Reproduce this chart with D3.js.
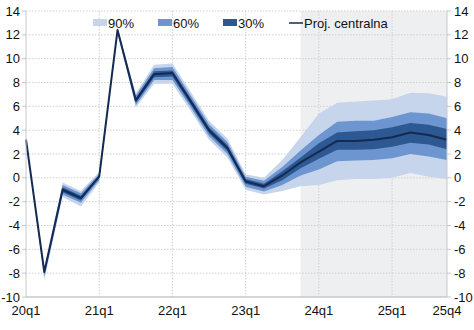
<!DOCTYPE html>
<html><head><meta charset="utf-8">
<script src="https://cdn.jsdelivr.net/npm/d3@7"></script>
<style>body{margin:0;background:#fff}svg{display:block;font-family:"Liberation Sans",Arial,sans-serif}</style>
</head><body><svg id="c" width="474" height="330"></svg>
<script>
const quarters = ["20q1","20q2","20q3","20q4","21q1","21q2","21q3","21q4","22q1","22q2","22q3","22q4","23q1","23q2","23q3","23q4","24q1","24q2","24q3","24q4","25q1","25q2","25q3","25q4"];
const central = [3.2,-7.9,-1.0,-1.7,0.1,12.4,6.5,8.7,8.8,6.4,4.0,2.5,-0.3,-0.7,0.2,1.3,2.2,3.1,3.1,3.2,3.4,3.8,3.6,3.2];
const lo90 = [3.1,-8.6,-1.6,-2.4,-0.4,12.1,5.9,7.9,7.9,5.6,3.2,1.7,-1.0,-1.4,-1.1,-0.7,-0.6,-0.2,-0.1,-0.1,0.0,0.4,0.1,-0.1];
const hi90 = [3.3,-7.5,-0.4,-1.1,0.5,12.6,7.1,9.5,9.6,7.2,4.8,3.3,0.3,0.0,1.5,3.4,5.4,6.3,6.4,6.5,6.6,7.15,7.1,6.8];
const lo60 = [3.15,-8.3,-1.4,-2.1,-0.2,12.25,6.1,8.2,8.2,5.9,3.5,2.0,-0.75,-1.15,-0.6,0.2,0.7,1.4,1.45,1.5,1.65,2.0,1.8,1.5];
const hi60 = [3.25,-7.7,-0.6,-1.3,0.35,12.5,6.9,9.2,9.3,6.9,4.5,3.0,0.1,-0.25,0.9,2.3,3.6,4.7,4.8,4.8,5.1,5.5,5.4,5.0];
const lo30 = [3.2,-8.1,-1.2,-1.9,0.0,12.35,6.3,8.45,8.5,6.15,3.75,2.25,-0.5,-0.9,-0.2,0.8,1.6,2.35,2.35,2.4,2.6,2.95,2.8,2.4];
const hi30 = [3.2,-7.8,-0.8,-1.5,0.2,12.45,6.7,8.95,9.0,6.65,4.25,2.75,-0.1,-0.5,0.55,1.7,2.9,3.8,3.9,4.0,4.25,4.6,4.45,4.1];
const yTicks = [-10,-8,-6,-4,-2,0,2,4,6,8,10,12,14];
const xTickLabels = ["20q1","21q1","22q1","23q1","24q1","25q1","25q4"];
const forecastStart = "23q4";
const legendItems = ["90%","60%","30%","Proj. centralna"];

const svg = d3.select("#c");
const L = 26, R = 447, T = 11, B = 297;
const x = d3.scaleLinear().domain([0, quarters.length - 1]).range([L, R]);
const y = d3.scaleLinear().domain([-10, 14]).range([B, T]);
const fi = quarters.indexOf(forecastStart);

// forecast shading
svg.append("rect").attr("x", x(fi)).attr("y", T).attr("width", R - x(fi)).attr("height", B - T).attr("fill", "#eeeff1");

// horizontal grid
svg.append("g").selectAll("line").data(yTicks.filter(v => v > -10)).join("line")
  .attr("x1", L).attr("x2", R).attr("y1", d => y(d)).attr("y2", d => y(d))
  .attr("stroke", "#cfcfcf").attr("stroke-width", 1).attr("stroke-dasharray", "1.5,1.5");
// vertical grid
svg.append("g").selectAll("line").data(xTickLabels.slice(1, -1)).join("line")
  .attr("x1", d => x(quarters.indexOf(d))).attr("x2", d => x(quarters.indexOf(d)))
  .attr("y1", T).attr("y2", B)
  .attr("stroke", "#cfcfcf").attr("stroke-width", 1).attr("stroke-dasharray", "1.5,1.5");

const idx = d3.range(quarters.length);
const area = (lo, hi) => d3.area().x(i => x(i)).y0(i => y(lo[i])).y1(i => y(hi[i]));
svg.append("path").datum(idx).attr("d", area(lo90, hi90)).attr("fill", "#c6d5eb");
svg.append("path").datum(idx).attr("d", area(lo60, hi60)).attr("fill", "#6d96d0");
svg.append("path").datum(idx).attr("d", area(lo30, hi30)).attr("fill", "#2e5891");
svg.append("path").datum(idx).attr("d", d3.line().x(i => x(i)).y(i => y(central[i])))
  .attr("fill", "none").attr("stroke", "#142a52").attr("stroke-width", 2).attr("stroke-linejoin", "round");

// axes lines
const axCol = "#c8c8c8";
svg.append("line").attr("x1", L).attr("x2", L).attr("y1", T).attr("y2", B).attr("stroke", axCol);
svg.append("line").attr("x1", R).attr("x2", R).attr("y1", T).attr("y2", B).attr("stroke", axCol);
svg.append("line").attr("x1", L).attr("x2", R).attr("y1", B).attr("y2", B).attr("stroke", axCol).attr("stroke-width", 1.5);

// y ticks both sides
const yl = svg.append("g");
yl.selectAll("line.l").data(yTicks).join("line").attr("class", "l")
  .attr("x1", L - 4).attr("x2", L).attr("y1", d => y(d)).attr("y2", d => y(d)).attr("stroke", axCol);
yl.selectAll("line.r").data(yTicks).join("line").attr("class", "r")
  .attr("x1", R).attr("x2", R + 4).attr("y1", d => y(d)).attr("y2", d => y(d)).attr("stroke", axCol);
yl.selectAll("text.l").data(yTicks).join("text").attr("class", "l")
  .attr("x", L - 6).attr("y", d => y(d) + 4.5).attr("text-anchor", "end")
  .attr("font-size", 13).attr("fill", "#111").text(d => d);
yl.selectAll("text.r").data(yTicks).join("text").attr("class", "r")
  .attr("x", R + 7).attr("y", d => y(d) + 4.5).attr("text-anchor", "start")
  .attr("font-size", 13).attr("fill", "#111").text(d => d);

// x labels
svg.append("g").selectAll("text").data(xTickLabels).join("text")
  .attr("x", d => x(quarters.indexOf(d))).attr("y", 315).attr("text-anchor", "middle")
  .attr("font-size", 13).attr("fill", "#111").text(d => d);

// legend
const lg = svg.append("g");
const lx = [93, 158, 223, 289];
const lcol = ["#c6d5eb", "#6d96d0", "#2e5891", "#142a52"];
legendItems.forEach((t, i) => {
  if (i < 3) lg.append("rect").attr("x", lx[i]).attr("y", 19).attr("width", 14).attr("height", 7).attr("fill", lcol[i]);
  else lg.append("line").attr("x1", lx[i]).attr("x2", lx[i] + 14).attr("y1", 23).attr("y2", 23).attr("stroke", lcol[i]).attr("stroke-width", 1.5);
  lg.append("text").attr("x", lx[i] + 15).attr("y", 28).attr("font-size", 13).attr("fill", "#111").text(t);
});
</script></body></html>
